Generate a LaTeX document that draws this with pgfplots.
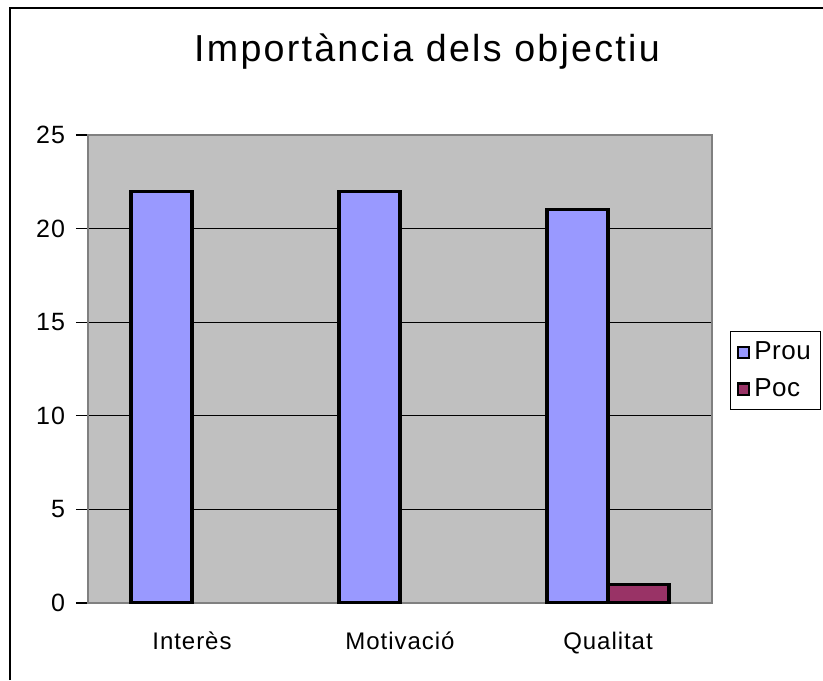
\documentclass[border=0pt]{standalone}
\usepackage{pgfplots}
\pgfplotsset{compat=1.18}
\usepackage{fontspec}
\setmainfont{Liberation Sans}[LetterSpace=4]
\newfontfamily\titlefont[LetterSpace=6]{Liberation Sans}
\newfontfamily\legfont[LetterSpace=2]{Liberation Sans}
\definecolor{prou}{HTML}{9999FF}
\definecolor{poc}{HTML}{993366}
\definecolor{plotbg}{HTML}{C0C0C0}
\definecolor{plotborder}{HTML}{808080}
\begin{document}
\begin{tikzpicture}[x=0.5pt,y=-0.5pt]
\useasboundingbox (0,0) rectangle (823,680);
\draw[black, line width=1pt] (10,680) -- (10,8) -- (823,8);
\node[font=\titlefont\fontsize{18.8}{22}\selectfont] at (427,52) {Importància dels objectiu};
\begin{axis}[
  at={(88pt*0.5,-603pt*0.5)}, anchor=south west,
  scale only axis, width=312pt, height=234pt,
  ybar=0pt, bar width=30.5pt,
  xmin=-0.5, xmax=2.5, ymin=0, ymax=25,
  ytick={0,5,...,25},
  xtick={0,1,2}, xticklabels={Interès,Motivació,Qualitat},
  extra x ticks={-0.5,0.5,1.5,2.5}, extra x tick labels={},
  extra x tick style={major tick length=6pt, tick style={black,line width=0.6pt}, grid=none},
  x tick style={draw=none},
  tick pos=left,
  ymajorgrids, grid style={black, line width=0.5pt},
  y tick style={black, line width=0.6pt}, major tick length=6pt,
  tick align=outside,
  axis background/.style={fill=plotbg},
  axis line style={plotborder, line width=1pt},
  /pgf/number format/assume math mode=true,
  yticklabel style={font=\fontsize{12.5}{14}\selectfont, xshift=-2pt},
  xticklabel style={font=\fontsize{12}{14}\selectfont, yshift=-5pt},
  legend style={at={(1.029,0.496)}, anchor=west, draw=black, line width=0.5pt,
    font=\legfont\fontsize{13}{15}\selectfont, row sep=4pt, inner sep=3pt},
  legend cell align=left,
  legend image code/.code={\draw[#1, line width=1.3pt] (0pt,-2.8pt) rectangle (5.6pt,2.8pt);},
  every axis plot/.append style={line width=1.6pt},
]
\addplot[fill=prou, draw=black, line width=1.6pt] coordinates {(0,22) (1,22) (2,21)};
\addplot[fill=poc, draw=black, line width=1.6pt] coordinates {(2,1)};
\legend{Prou,Poc}
\end{axis}
\end{tikzpicture}
\end{document}
